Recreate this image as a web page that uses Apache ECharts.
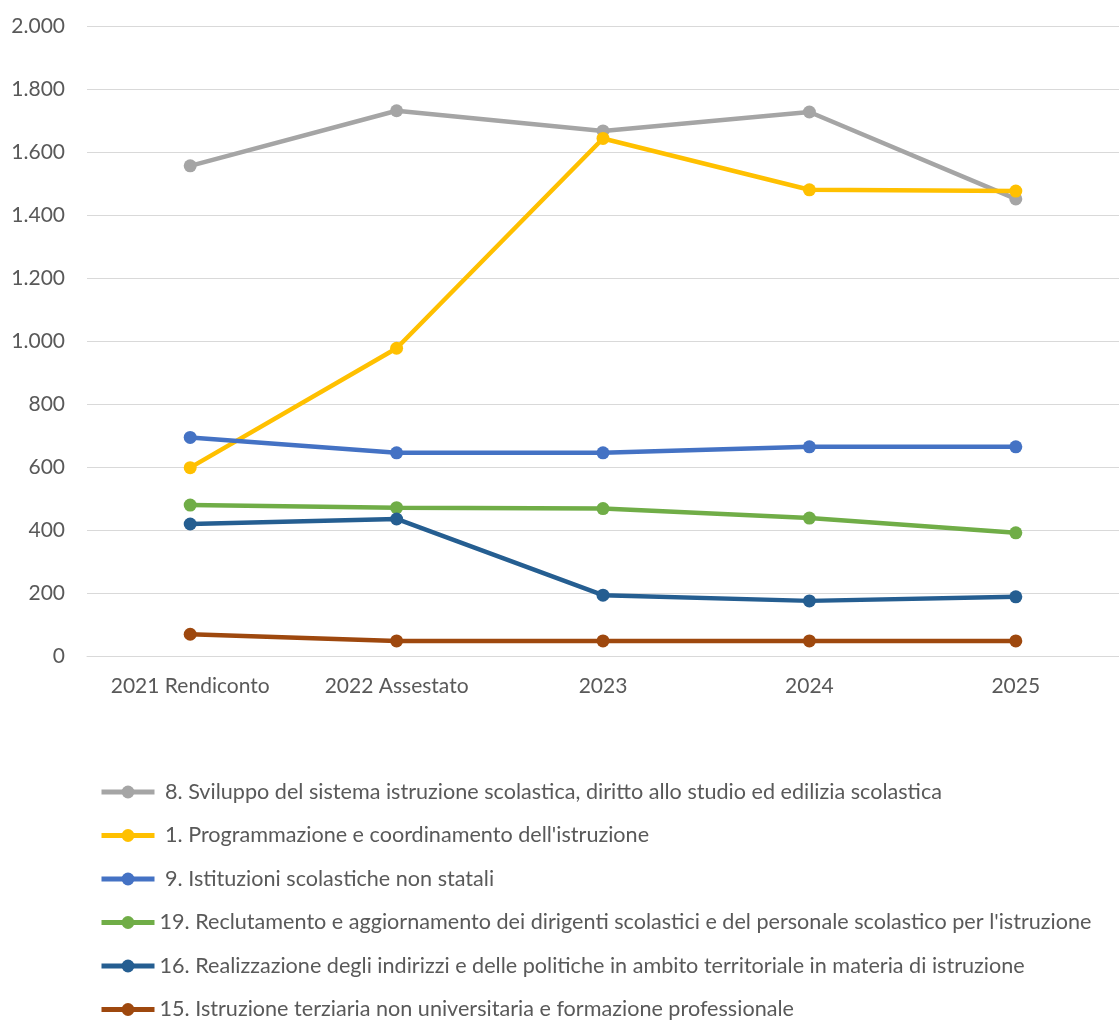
<!DOCTYPE html>
<html>
<head>
<meta charset="utf-8">
<script src="https://cdn.jsdelivr.net/npm/echarts@6/dist/echarts.min.js"></script>
<style>
html,body{margin:0;padding:0;background:#fff;}
#chart{width:1119px;height:1021px;}
</style>
</head>
<body>
<div id="chart"></div>
<script>
const categories = ['2021 Rendiconto', '2022 Assestato', '2023', '2024', '2025'];

const seriesNames = [
  ' 8. Sviluppo del sistema istruzione scolastica, diritto allo studio ed edilizia scolastica',
  ' 1. Programmazione e coordinamento dell\'istruzione',
  ' 9. Istituzioni scolastiche non statali',
  '19. Reclutamento e aggiornamento dei dirigenti scolastici e del personale scolastico per l\'istruzione',
  '16. Realizzazione degli indirizzi e delle politiche in ambito territoriale in materia di istruzione',
  '15. Istruzione terziaria non universitaria e formazione professionale'
];

const sviluppo = [1556, 1731, 1667, 1727, 1451];
const programmazione = [598, 977, 1643, 1480, 1476];
const istituzioni = [694, 645, 645, 664, 664];
const reclutamento = [479, 471, 468, 438, 391];
const realizzazione = [419, 435, 193, 175, 188];
const terziaria = [69, 48, 48, 48, 48];

const yTickLabels = ['0', '200', '400', '600', '800', '1.000', '1.200', '1.400', '1.600', '1.800', '2.000'];

const colors = ['#A5A5A5', '#FFC000', '#4472C4', '#70AD47', '#255E91', '#9E480E'];
const allData = [sviluppo, programmazione, istituzioni, reclutamento, realizzazione, terziaria];

const FONT = 'Lato';
const FS = 21;
const chart = echarts.init(document.getElementById('chart'), null, {renderer: 'canvas'});

chart.setOption({
  animation: false,
  backgroundColor: '#ffffff',
  color: colors,
  textStyle: {fontFamily: FONT},
  grid: {left: 87, top: 26, width: 1042, height: 630, containLabel: false},
  xAxis: {
    type: 'category',
    data: categories,
    boundaryGap: true,
    axisLine: {show: true, lineStyle: {color: '#D9D9D9', width: 1}},
    axisTick: {show: false},
    axisLabel: {color: '#595959', fontSize: FS, fontFamily: FONT, margin: 20, interval: 0}
  },
  yAxis: {
    type: 'value',
    min: 0,
    max: 2000,
    interval: 200,
    axisLine: {show: false},
    axisTick: {show: false},
    splitLine: {lineStyle: {color: '#D9D9D9', width: 1}},
    axisLabel: {
      color: '#595959', fontSize: FS, fontFamily: FONT, margin: 22,
      formatter: function (v) { return yTickLabels[Math.round(v / 200)]; }
    }
  },
  legend: {
    orient: 'vertical',
    left: 99,
    top: 781,
    height: 260,
    padding: 0,
    itemWidth: 53,
    itemHeight: 16,
    itemGap: 21.5,
    lineStyle: {width: 5},
    textStyle: {color: '#595959', fontSize: 21.6, fontFamily: FONT, lineHeight: 21},
    data: seriesNames
  },
  series: seriesNames.map(function (name, i) {
    return {
      name: name,
      type: 'line',
      data: allData[i],
      symbol: 'circle',
      symbolSize: 13,
      lineStyle: {width: 4.5, color: colors[i]},
      itemStyle: {color: colors[i]},
      z: 2 + i
    };
  })
});
</script>
</body>
</html>
